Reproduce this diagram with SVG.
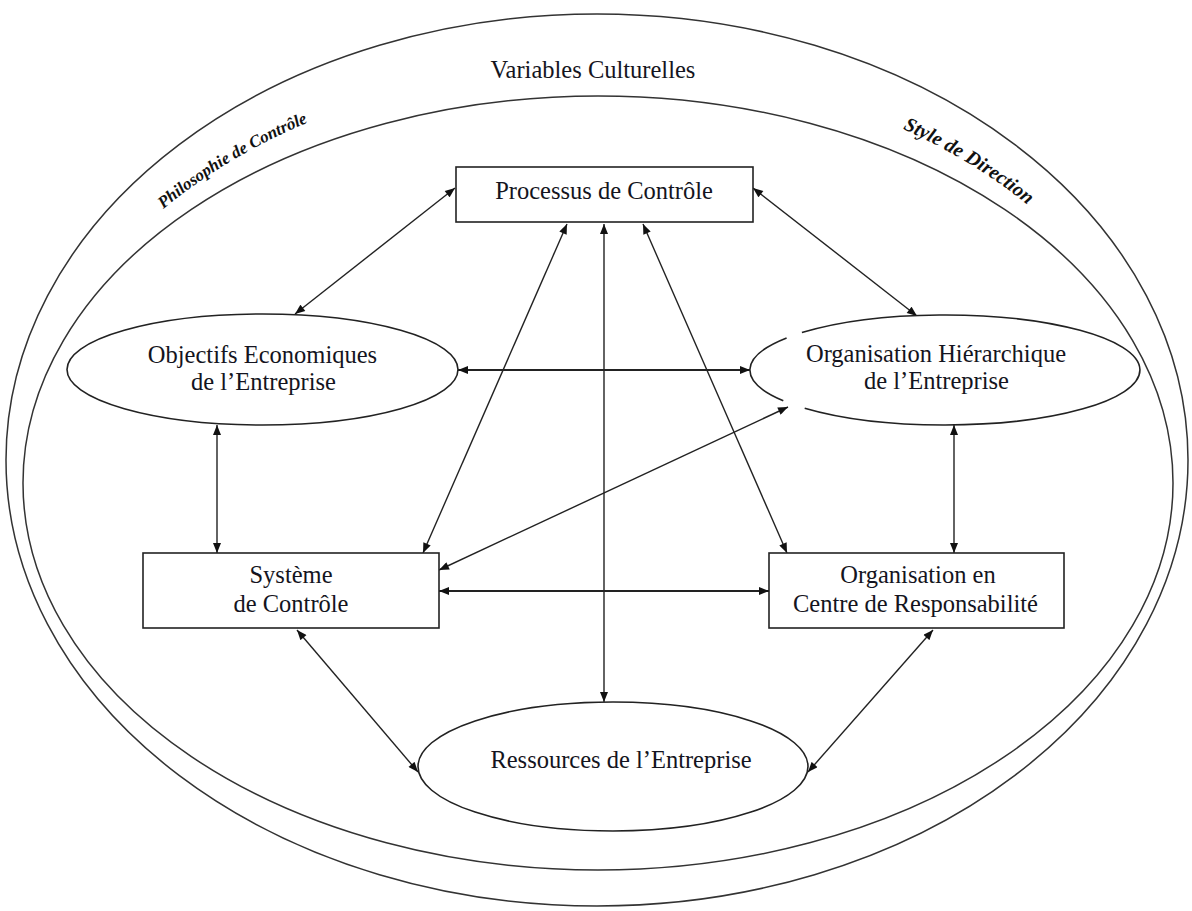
<svg xmlns="http://www.w3.org/2000/svg" width="1192" height="911" viewBox="0 0 1192 911">
<style>
.shape{fill:#fff;stroke:#222;stroke-width:1.6}
.ring{fill:none;stroke:#333;stroke-width:1.5}
.lbl{font-family:"Liberation Serif","Times New Roman",serif;font-size:24.5px;fill:#141420;text-anchor:middle}
.curv{font-family:"Liberation Serif","Times New Roman",serif;font-weight:bold;font-style:italic;fill:#111;text-anchor:middle}
.con{fill:none;stroke:#222;stroke-width:1.4;marker-start:url(#ah);marker-end:url(#ah)}
.con2{stroke-width:2.2}
</style>
<defs>
<marker id="ah" viewBox="0 0 10 8" refX="10" refY="4" markerWidth="11" markerHeight="8" markerUnits="userSpaceOnUse" orient="auto-start-reverse">
<path d="M0,0 L10,4 L0,8 z" fill="#111"/>
</marker>
<path id="band" d="M 24 478 A 574 412 0 0 1 1172 478"/>
</defs>
<rect width="1192" height="911" fill="#fff"/>
<g id="outer-ring">
<ellipse class="ring" cx="597" cy="460" rx="591" ry="446"/>
<ellipse class="ring" cx="598" cy="483" rx="575" ry="387"/>
<text class="lbl" x="593" y="78">Variables Culturelles</text>
<text class="curv" font-size="17"><textPath href="#band" startOffset="25.5%">Philosophie de Contrôle</textPath></text>
<text class="curv" font-size="20"><textPath href="#band" startOffset="74.8%">Style de Direction</textPath></text>
</g>
<g id="connectors">
<line class="con" x1="455" y1="188" x2="295" y2="314"/>
<line class="con" x1="753" y1="188" x2="917" y2="316"/>
<line class="con" x1="567" y1="224" x2="423" y2="553"/>
<line class="con" x1="604" y1="224" x2="604" y2="702"/>
<line class="con" x1="643" y1="224" x2="787" y2="553"/>
<line class="con con2" x1="458" y1="370" x2="750" y2="370"/>
<line class="con" x1="217" y1="425" x2="217" y2="553"/>
<line class="con" x1="954" y1="425" x2="954" y2="553"/>
<line class="con" x1="439" y1="570" x2="788" y2="407"/>
<line class="con con2" x1="439" y1="591" x2="769" y2="591"/>
<line class="con" x1="297" y1="630" x2="418" y2="772"/>
<line class="con" x1="933" y1="630" x2="808" y2="772"/>
</g>
<g id="processus">
<rect class="shape" x="456" y="167" width="297" height="55"/>
<text class="lbl" x="604" y="199">Processus de Contrôle</text>
</g>
<g id="objectifs">
<ellipse class="shape" cx="262.5" cy="369.5" rx="195.5" ry="55.5"/>
<text class="lbl" x="262.5" y="363">Objectifs Economiques</text>
<text class="lbl" x="263.5" y="390">de l’Entreprise</text>
</g>
<g id="organisation-hierarchique">
<ellipse cx="945" cy="370" rx="195" ry="55" fill="#fff" stroke="none"/>
<path class="shape" fill="none" d="M 801.9 332.6 A 195 55 0 1 1 804.7 408.2 M 783.3 400.8 A 195 55 0 0 1 786.6 337.9"/>
<text class="lbl" x="936" y="362">Organisation Hiérarchique</text>
<text class="lbl" x="936.5" y="389">de l’Entreprise</text>
</g>
<g id="systeme">
<rect class="shape" x="143" y="553" width="296" height="75"/>
<text class="lbl" x="291" y="583">Système</text>
<text class="lbl" x="291" y="612">de Contrôle</text>
</g>
<g id="centre">
<rect class="shape" x="769" y="553" width="295" height="75"/>
<text class="lbl" x="918" y="583">Organisation en</text>
<text class="lbl" x="915.5" y="612">Centre de Responsabilité</text>
</g>
<g id="ressources">
<ellipse class="shape" cx="613" cy="766.5" rx="195" ry="64.5"/>
<text class="lbl" x="621" y="768">Ressources de l’Entreprise</text>
</g>
</svg>
